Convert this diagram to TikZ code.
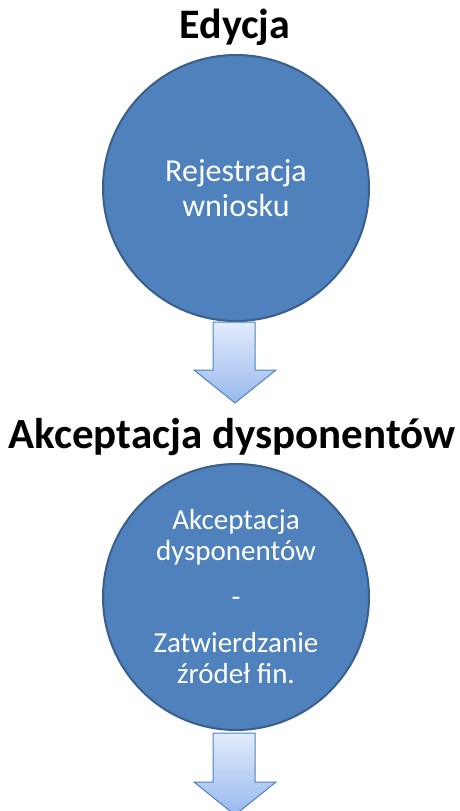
\documentclass[tikz,border=0pt]{standalone}
\usepackage{fontspec}
\setmainfont{Carlito}
\definecolor{cfill}{HTML}{4F81BD}
\definecolor{cdraw}{HTML}{3A5F8B}
\definecolor{atop}{HTML}{E2EBFA}
\definecolor{abot}{HTML}{97B9EE}
\definecolor{adraw}{HTML}{4F81BD}
\begin{document}
\begin{tikzpicture}[x=1pt,y=-1pt,
  stagecircle/.style={circle,fill=cfill,draw=cdraw,line width=2pt,minimum size=266pt,inner sep=0pt,text=white,align=center,font=\fontsize{29}{31}\selectfont},
  stagetitle/.style={font=\fontsize{42}{44}\selectfont\bfseries,inner sep=0pt,anchor=base},
  downarrow/.style={draw=adraw,line width=1pt,top color=atop,bottom color=abot,line join=miter}]
\useasboundingbox (0,0) rectangle (460,811);
\node[stagetitle] (t1) at (235,38) {Edycja};
\node[stagetitle,font=\fontsize{43}{44}\selectfont\bfseries] (t2) at (232,448) {Akceptacja dysponentów};
\node[stagecircle,font=\fontsize{32}{35}\selectfont] (c1) at (236,188) {Rejestracja\\wniosku};
\node[stagecircle] (c2) at (236,597) {Akceptacja\\dysponentów\\[15pt]-\\[15pt]Zatwierdzanie\\źródeł fin.};
\path[downarrow] (213,322) -- (255,322) -- (255,370) -- (276,370) -- (235,403) -- (194,370) -- (213,370) -- cycle;
\path[downarrow] (213,733) -- (255,733) -- (255,782) -- (276,782) -- (235,815) -- (194,782) -- (213,782) -- cycle;
\end{tikzpicture}
\end{document}
